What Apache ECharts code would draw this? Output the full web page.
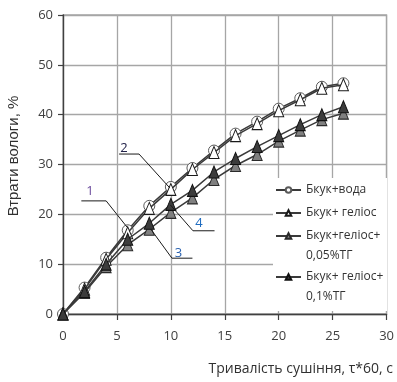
<!DOCTYPE html>
<html>
<head>
<meta charset="utf-8">
<script src="https://cdn.jsdelivr.net/npm/echarts@6/dist/echarts.min.js"></script>
<style>
  html, body { margin: 0; padding: 0; background: #fff; }
  #main { width: 397px; height: 382px; }
</style>
</head>
<body>
<div id="main"></div>
<script>
// drying time, tau*60 s
const times = [0, 2, 4, 6, 8, 10, 12, 14, 16, 18, 20, 22, 24, 26];
// moisture loss, %
const waterLoss  = [0, 5.3, 11.3, 16.8, 21.7, 25.5, 29.3, 32.8, 36.2, 38.6, 41.2, 43.3, 45.6, 46.3];
const heliosLoss = [0, 5.0, 11.0, 16.3, 21.2, 25.0, 29.0, 32.4, 35.8, 38.2, 40.8, 43.0, 45.3, 46.0];
const tg005Loss  = [0, 4.3, 9.5, 13.9, 17.0, 20.4, 23.3, 27.0, 29.8, 32.0, 34.7, 36.9, 39.0, 40.3];
const tg01Loss   = [0, 4.5, 10.0, 15.0, 18.2, 22.0, 24.8, 28.5, 31.2, 33.6, 35.8, 38.0, 40.0, 41.6];
const seriesNames = ['Бкук+вода', 'Бкук+ геліос', 'Бкук+геліос+\n0,05%ТГ', 'Бкук+ геліос+\n0,1%ТГ'];

// callout numbers and their leader lines, in data units
const calloutLabels = ['1', '2', '3', '4'];
const calloutColors = ['#6a4a9c', '#22224a', '#2a62b0', '#1f6cc0'];
const calloutTextPos = [[2.5, 24.6], [5.65, 33.2], [10.7, 12.2], [12.6, 18.2]];
const calloutPaths = [
  [[1.7, 22.7], [4.0, 22.7], [5.95, 17.4]],
  [[5.2, 32.1], [7.05, 32.1], [9.9, 25.3]],
  [[12.0, 11.2], [10.1, 11.2], [8.15, 17.0]],
  [[14.05, 16.7], [12.05, 16.7], [9.95, 21.9]]
];

const font = 'Open Sans';
const chart = echarts.init(document.getElementById('main'));

function line(name, values, symbol, size, fill, border, z) {
  return {
    type: 'line',
    name: name,
    data: times.map((t, i) => [t, values[i]]),
    symbol: symbol,
    symbolSize: size,
    showAllSymbol: true,
    itemStyle: {color: fill, borderColor: border, borderWidth: 1, opacity: 1},
    lineStyle: {color: '#3a3a3a', width: 1.5},
    z: z,
    animation: false
  };
}

// multi-line names get a blank first line so the icon sits on the first text line
function legend(names, top, lift) {
  return {
    data: names,
    orient: 'vertical',
    left: 275,
    top: top,
    padding: 0,
    itemGap: 3,
    itemWidth: 25,
    itemHeight: 7,
    selectedMode: false,
    z: 5,
    formatter: n => (lift ? '\n' : '') + n,
    textStyle: {fontFamily: font, fontSize: 12, color: '#333333', lineHeight: 20}
  };
}

const axisCommon = {
  type: 'value',
  axisLine: {show: true, onZero: false, lineStyle: {color: '#404040', width: 1.3}},
  axisTick: {show: true, length: 5, lineStyle: {color: '#404040', width: 1.2}},
  splitLine: {show: true, lineStyle: {color: '#a6a6a6', width: 1.3}},
};

chart.setOption({
  animation: false,
  grid: {left: 63, right: 6, top: 15, bottom: 68, show: true, borderColor: '#a6a6a6', borderWidth: 1.3},
  xAxis: Object.assign({}, axisCommon, {
    min: 0, max: 30, interval: 5,
    axisTick: {show: true, length: 6, lineStyle: {color: '#404040', width: 1.2}},
    axisLabel: {margin: 16, fontSize: 13, color: '#404040', fontFamily: font}
  }),
  yAxis: Object.assign({}, axisCommon, {
    min: 0, max: 60, interval: 10,
    axisLabel: {margin: 10, fontSize: 13, color: '#404040', fontFamily: font}
  }),
  legend: [
    legend([seriesNames[0], seriesNames[1]], 180, false),
    legend([seriesNames[2]], 206, true),
    legend([seriesNames[3]], 247, true)
  ],
  series: [
    line(seriesNames[0], waterLoss, 'circle', 11, '#ffffff', '#5a5a5a', 2),
    line(seriesNames[1], heliosLoss, 'triangle', [10, 12], '#ffffff', '#1a1a1a', 3),
    line(seriesNames[2], tg005Loss, 'triangle', [10, 12], '#808080', '#2a2a2a', 3),
    line(seriesNames[3], tg01Loss, 'triangle', [10, 12], '#3c3c3c', '#111111', 4)
  ]
});

const px = p => chart.convertToPixel({gridIndex: 0}, p);
const graphics = [
  {type: 'rect', left: 273, top: 178, silent: true, z: 4,
   shape: {width: 114, height: 133}, style: {fill: '#ffffff'}},
  {type: 'text', x: 14, y: 156, rotation: Math.PI / 2, z: 5,
   style: {text: 'Втрати вологи, %', font: '15px "Liberation Sans"', fill: '#303030',
           align: 'center', verticalAlign: 'middle'}},
  {type: 'text', right: 4, top: 362, z: 5,
   style: {text: 'Тривалість сушіння, τ*60, с', font: '14px "Open Sans"', fill: '#303030'}}
];
calloutLabels.forEach((lab, i) => {
  graphics.push({
    type: 'polyline', z: 6, silent: true,
    shape: {points: calloutPaths[i].map(px)},
    style: {stroke: '#1a1a1a', lineWidth: 1, fill: null}
  });
  const p = px(calloutTextPos[i]);
  graphics.push({
    type: 'text', x: p[0], y: p[1], z: 6,
    style: {text: lab, font: '13px "Open Sans"', fill: calloutColors[i],
            align: 'center', verticalAlign: 'middle'}
  });
});
chart.setOption({graphic: graphics});
</script>
</body>
</html>
